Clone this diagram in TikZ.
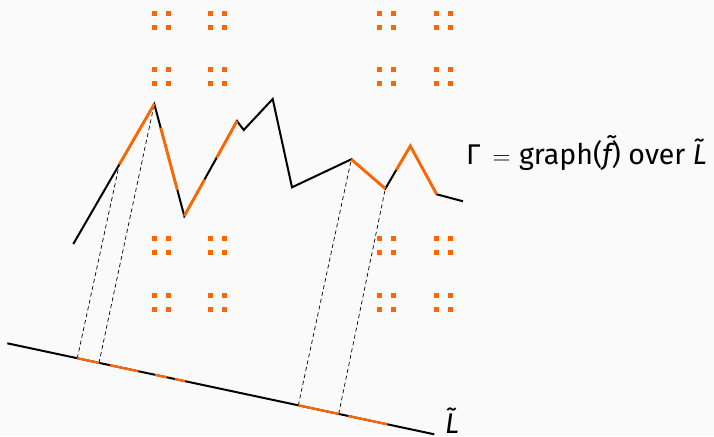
\documentclass[tikz,border=0pt]{standalone}
\usepackage{fontspec}
\setmainfont{Fira Sans}
\usetikzlibrary{calc}
\definecolor{bg}{HTML}{FAFAFA}
\definecolor{org}{RGB}{255,102,0}
\tikzset{
  graphline/.style={black, line width=2pt},
  orangeseg/.style={org, line width=2.8pt},
  baseline/.style={black, line width=2pt},
  baseorange/.style={org, line width=2.2pt},
  projline/.style={black, line width=0.7pt, dash pattern=on 4pt off 3pt},
  dust/.style={fill=org},
  lbl/.style={font=\fontsize{28.5}{32}\selectfont, inner sep=0pt}
}
\begin{document}
\begin{tikzpicture}[x=1pt,y=-1pt]
\fill[bg] (0,0) rectangle (714,436);
\useasboundingbox (0,0) rectangle (714,436);
% Cantor dust
\foreach \x in {154.5,168.3,210.3,224.3,379.3,393.3,436.3,450.3}
  \foreach \y in {13.3,27.3,69.3,83.3,238.3,252.3,295.3,309.3}
    \fill[dust] (\x-2.35,\y-2.35) rectangle (\x+2.35,\y+2.35);
% graph vertices
\coordinate (p0) at (73.3,244);
\coordinate (p1) at (154.3,104);
\coordinate (p2) at (184.3,216);
\coordinate (p3) at (237,121);
\coordinate (p4) at (243.7,130);
\coordinate (p5) at (272.7,99);
\coordinate (p6) at (292,187.3);
\coordinate (p7) at (351.3,159.3);
\coordinate (p8) at (385.3,188.7);
\coordinate (p9) at (410.3,146);
\coordinate (p10) at (436.7,194.3);
\coordinate (p11) at (463,201.3);
% line L
\coordinate (L0) at (7.3,343.3);
\coordinate (L1) at (434.3,434.3);
% projection lines
\coordinate (q1) at ($(p0)!0.568!(p1)$);
\draw[projline] ($(L0)!0.1639!(L1)$) coordinate (r1) -- (q1);
\draw[projline] ($(L0)!0.2147!(L1)$) coordinate (r2) -- (p1);
\draw[projline] ($(L0)!0.6815!(L1)$) coordinate (r3) -- (p7);
\draw[projline] ($(L0)!0.7761!(L1)$) coordinate (r4) -- (p8);
% graph
\draw[graphline] (p0) -- (p1) -- (p2) -- (p3) -- (p4) -- (p5) -- (p6) -- (p7) -- (p8) -- (p9) -- (p10) -- (p11);
\draw[orangeseg] (q1) -- (p1);
\draw[orangeseg] ($(p1)!0.212!(p2)$) -- ($(p1)!0.768!(p2)$);
\draw[orangeseg] (p2) -- ($(p2)!0.386!(p3)$);
\draw[orangeseg] ($(p2)!0.614!(p3)$) -- (p3);
\draw[orangeseg] (p7) -- (p8);
\draw[orangeseg] ($(p8)!0.438!(p9)$) -- (p9) -- (p10);
% base line
\draw[baseline] (L0) -- (L1);
\foreach \a/\b in {0.1639/0.2147, 0.2405/0.3068, 0.3459/0.3733, 0.3927/0.4162, 0.6815/0.7761, 0.7986/0.8899}
  \draw[baseorange] ($(L0)!\a!(L1)$) -- ($(L0)!\b!(L1)$);
% labels
\node[lbl, anchor=base west] (glabel) at (466,164) {Γ\hspace{12pt}$=$\hspace{8.5pt}graph({\itshape\~{f}}) over {\itshape\~{L}}};
\node[lbl, anchor=base west] (llabel) at (445,433) {{\itshape\~{L}}};
\end{tikzpicture}
\end{document}
